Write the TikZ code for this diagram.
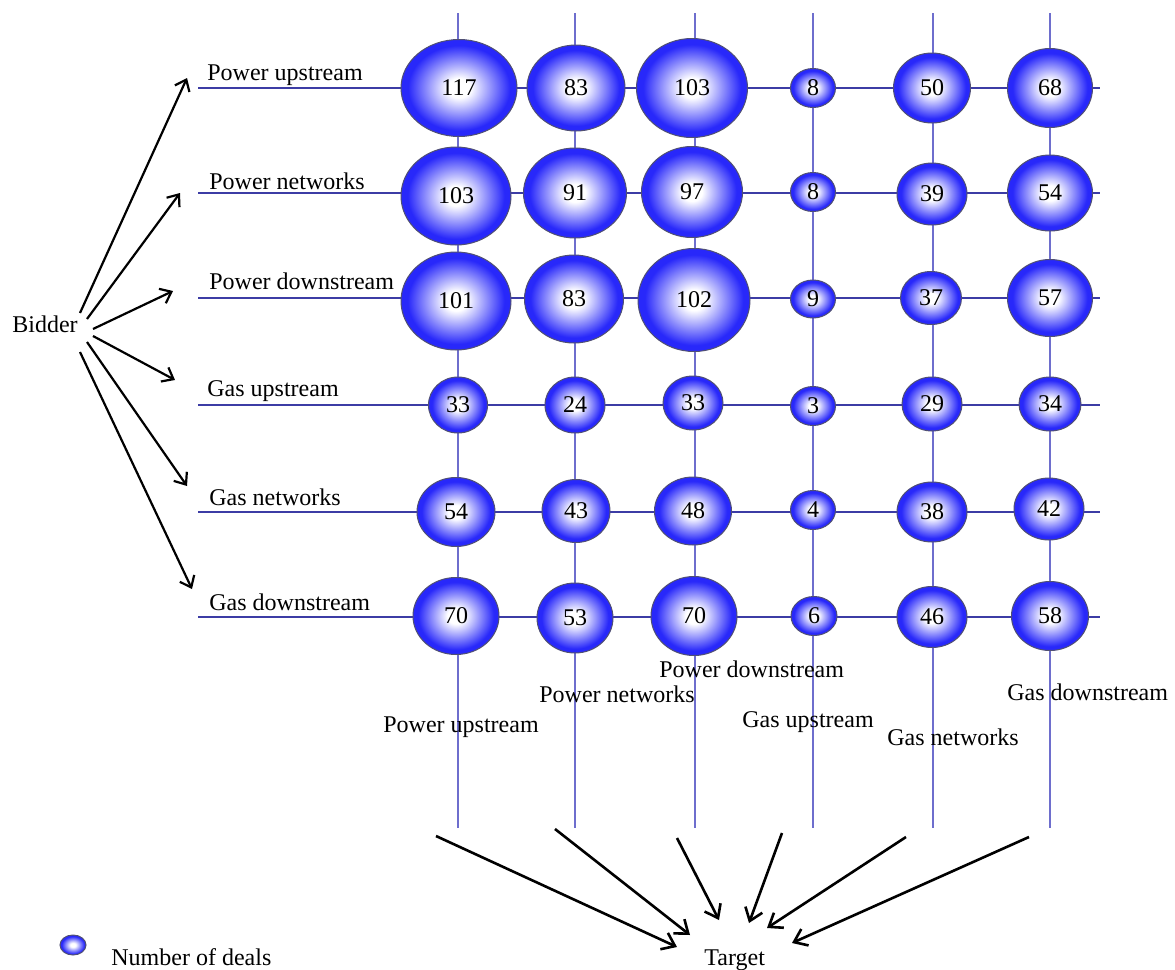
\documentclass[tikz,border=0pt]{standalone}
\usepackage{fontspec}
\setmainfont{Liberation Serif}
\usetikzlibrary{shapes.geometric,arrows.meta}
\definecolor{bblue}{RGB}{40,40,250}
\definecolor{hline}{RGB}{60,60,165}
\definecolor{vline}{RGB}{110,110,205}
\definecolor{bedge}{RGB}{80,80,115}
\pgfdeclareradialshading{bubshade}{\pgfpoint{0bp}{0bp}}{color(0bp)=(white); color(5bp)=(white); color(22bp)=(bblue); color(25bp)=(bblue); color(50bp)=(bblue)}
\newcommand\mybub[6]{\node[bub, minimum width=#4*0.5pt, minimum height=#5*0.5pt] (#1) at (#2,#3) {#6};}
\begin{document}
\begin{tikzpicture}[x=0.5pt,y=-0.5pt,
  bub/.style={ellipse, shade, shading=bubshade, draw=bedge, line width=0.5pt, inner sep=0pt, font=\fontsize{12}{14}\selectfont},
  lab/.style={anchor=base west, inner sep=0pt, font=\fontsize{12}{14}\selectfont},
  hl/.style={draw=hline, line width=1pt},
  vl/.style={draw=vline, line width=1pt},
  arr/.style={-{Straight Barb[length=5pt,width=8pt]}, line width=1.1pt, black},
  tarr/.style={-{Straight Barb[length=6pt,width=9pt]}, line width=1.3pt, black},
]
\fill[white] (0,0) rectangle (1175,970);
\useasboundingbox (0,0) rectangle (1175,970);

% grid lines
\foreach \x [count=\i] in {458,575,695,813,933,1050}{
  \coordinate (vt\i) at (\x,13);
  \coordinate (vb\i) at (\x,828);
  \draw[vl] (vt\i) -- (vb\i);
}
\foreach \y [count=\j] in {88,193,298,405,512,617}{
  \coordinate (hl\j) at (198,\y);
  \coordinate (hr\j) at (1100,\y);
  \draw[hl] (hl\j) -- (hr\j);
}

% bubbles
\mybub{b11}{459}{88}{116}{97}{117}
\mybub{b12}{576}{88}{98}{86}{83}
\mybub{b13}{692}{88}{111}{99}{103}
\mybub{b14}{813}{88}{45}{39}{8}
\mybub{b15}{932}{88}{77}{70}{50}
\mybub{b16}{1050}{88}{85}{79}{68}

\mybub{b21}{456}{196}{110}{98}{103}
\mybub{b22}{575}{193}{103}{90}{91}
\mybub{b23}{692}{192}{101}{91}{97}
\mybub{b24}{813}{192}{45}{39}{8}
\mybub{b25}{932}{194}{70}{62}{39}
\mybub{b26}{1050}{193}{85}{76}{54}

\mybub{b31}{456}{301}{110}{98}{101}
\mybub{b32}{574}{299}{99}{88}{83}
\mybub{b33}{694}{300}{112}{103}{102}
\mybub{b34}{813}{299}{45}{38}{9}
\mybub{b35}{931}{298}{61}{53}{37}
\mybub{b36}{1050}{298}{85}{77}{57}

\mybub{b41}{458}{405}{59}{56}{33}
\mybub{b42}{575}{405}{60}{56}{24}
\mybub{b43}{693}{403}{60}{54}{33}
\mybub{b44}{813}{406}{45}{39}{3}
\mybub{b45}{932}{404}{60}{54}{29}
\mybub{b46}{1050}{404}{62}{54}{34}

\mybub{b51}{456}{512}{78}{69}{54}
\mybub{b52}{576}{511}{68}{63}{43}
\mybub{b53}{693}{511}{77}{68}{48}
\mybub{b54}{813}{510}{45}{39}{4}
\mybub{b55}{932}{512}{70}{60}{38}
\mybub{b56}{1049}{509}{70}{62}{42}

\mybub{b61}{456}{616}{86}{77}{70}
\mybub{b62}{575}{618}{76}{70}{53}
\mybub{b63}{694}{616}{86}{79}{70}
\mybub{b64}{814}{616}{46}{39}{6}
\mybub{b65}{932}{617}{70}{61}{46}
\mybub{b66}{1050}{616}{77}{69}{58}

% row labels
\node[lab] (r1) at (207,80) {Power upstream};
\node[lab] (r2) at (209,189) {Power networks};
\node[lab] (r3) at (209,289) {Power downstream};
\node[lab] (r4) at (207,396) {Gas upstream};
\node[lab] (r5) at (209,505) {Gas networks};
\node[lab] (r6) at (209,610) {Gas downstream};

% column labels
\node[lab] (c1) at (383,732) {Power upstream};
\node[lab] (c2) at (539,702) {Power networks};
\node[lab] (c3) at (659,677) {Power downstream};
\node[lab] (c4) at (742,727) {Gas upstream};
\node[lab] (c5) at (887,745) {Gas networks};
\node[lab] (c6) at (1007,700) {Gas downstream};

% bidder
\node[lab] (bidder) at (12,332) {Bidder};
\coordinate (bs1) at (80,313);  \coordinate (bt1) at (187,78);
\coordinate (bs2) at (87,319);  \coordinate (bt2) at (180,193);
\coordinate (bs3) at (93,329);  \coordinate (bt3) at (173,291);
\coordinate (bs4) at (93,336);  \coordinate (bt4) at (175,380);
\coordinate (bs5) at (87,342);  \coordinate (bt5) at (187,486);
\coordinate (bs6) at (80,352);  \coordinate (bt6) at (192,589);
\foreach \k in {1,...,6}{ \draw[arr] (bs\k) -- (bt\k); }

% target
\node[lab] (target) at (704,965) {Target};
\coordinate (ts1) at (436,836);  \coordinate (tt1) at (677,947);
\coordinate (ts2) at (555,829);  \coordinate (tt2) at (690,935);
\coordinate (ts3) at (677,838);  \coordinate (tt3) at (719,920);
\coordinate (ts4) at (782,833);  \coordinate (tt4) at (749,923);
\coordinate (ts5) at (906,837);  \coordinate (tt5) at (767,928);
\coordinate (ts6) at (1029,837); \coordinate (tt6) at (792,943);
\foreach \k in {1,...,6}{ \draw[tarr] (ts\k) -- (tt\k); }

% legend
\node[bub, minimum width=13pt, minimum height=10pt] (leg) at (73,945) {};
\node[lab] (legtext) at (111,965) {Number of deals};
\end{tikzpicture}
\end{document}
